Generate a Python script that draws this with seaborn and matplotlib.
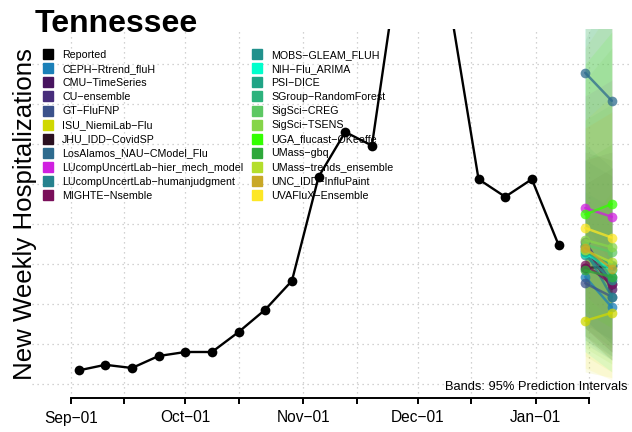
import matplotlib
matplotlib.use('Agg')
import matplotlib.pyplot as plt
import matplotlib.dates as mdates
from matplotlib.lines import Line2D
import seaborn as sns
import pandas as pd
import numpy as np

# reported weekly hospitalizations (week ending Saturday)
report_dates = pd.date_range('2022-09-03', '2023-01-07', freq='7D')
report_vals = [17, 24, 20, 35, 40, 40, 65, 93, 129, 259, 315, 298,
               526, 610, 459, 256, 234, 256, 174]

fc_dates = pd.to_datetime(['2023-01-14', '2023-01-21'])

models = ['CEPH-Rtrend_fluH', 'CMU-TimeSeries', 'CU-ensemble', 'GT-FluFNP',
          'ISU_NiemiLab-Flu', 'JHU_IDD-CovidSP', 'LosAlamos_NAU-CModel_Flu',
          'LUcompUncertLab-hier_mech_model', 'LUcompUncertLab-humanjudgment',
          'MIGHTE-Nsemble', 'MOBS-GLEAM_FLUH', 'NIH-Flu_ARIMA', 'PSI-DICE',
          'SGroup-RandomForest', 'SigSci-CREG', 'SigSci-TSENS',
          'UGA_flucast-OKeeffe', 'UMass-gbq', 'UMass-trends_ensemble',
          'UNC_IDD-InfluPaint', 'UVAFluX-Ensemble']
colors = ['#1B80B8', '#48145F', '#472D7B', '#3B528B', '#D0D800', '#2B1020',
          '#2E6B8E', '#D020E0', '#26828E', '#7A0F5A', '#21918C', '#00FFCC',
          '#20A486', '#2DB27D', '#5DC863', '#86D549', '#33FF00', '#2EA83A',
          '#B4DE2C', '#C9A826', '#FDE725']

# medians at horizon 1 and 2
med1 = [134, 172, 178, 126, 79, 145, 389, 220, 167, 149, 161, 164, 165, 171, 174, 180, 212, 142, 167, 170, 195]
med2 = [96, 119, 125, 109, 89, 147, 354, 209, 109, 125, 130, 142, 149, 134, 165, 171, 225, 134, 152, 144, 183]
# 95% prediction interval bounds
lo1 = [50, 70, 80, 55, 15, 75, 200, 110, 60, 70, 80, 40, 60, 55, 60, 45, 90, 70, 35, 60, 20]
lo2 = [30, 40, 50, 35, 8, 55, 150, 80, 30, 40, 50, 15, 35, 30, 40, 25, 70, 45, 15, 30, 5]
hi1 = [240, 290, 280, 220, 200, 250, 560, 360, 300, 280, 330, 620, 480, 430, 380, 420, 400, 280, 330, 320, 460]
hi2 = [220, 280, 260, 210, 240, 270, 540, 380, 270, 290, 350, 750, 560, 500, 420, 470, 440, 300, 360, 340, 520]

sns.set_style('white')
plt.rcParams['font.family'] = ['Liberation Sans', 'DejaVu Sans']
plt.rcParams['text.color'] = 'black'
plt.rcParams['xtick.color'] = 'black'
plt.rcParams['xtick.labelcolor'] = 'black'
minus = '\u2212'

fig = plt.figure(figsize=(6.32, 4.32), dpi=100)
ax = fig.add_axes([32 / 632, 1 - 398 / 432, 600 / 632, 369 / 432])

# bands
for i, m in enumerate(models):
    ax.fill_between(fc_dates, [lo1[i], lo2[i]], [hi1[i], hi2[i]],
                    color=colors[i], alpha=0.1, lw=0, zorder=1)

fc_df = pd.DataFrame({
    'model': np.repeat(models, 2),
    'date': np.tile(fc_dates, len(models)),
    'value': np.ravel(np.column_stack([med1, med2])),
})
pal = dict(zip(models, colors))
sns.lineplot(data=fc_df, x='date', y='value', hue='model', palette=pal,
             marker='o', markersize=7, markeredgewidth=0, lw=1.8,
             alpha=0.75, legend=False, ax=ax, zorder=3)

rep_df = pd.DataFrame({'date': report_dates, 'value': report_vals})
sns.lineplot(data=rep_df, x='date', y='value', color='black', marker='o',
             markersize=7, markeredgewidth=0, lw=1.7, ax=ax, zorder=4)

# axes
ax.set_xlim(pd.Timestamp('2022-08-21 18:00'), pd.Timestamp('2023-01-26 07:00'))
ax.set_ylim(-17.5, 443.75)
ticks = pd.to_datetime(['2022-09-01', '2022-09-15', '2022-10-01', '2022-10-15',
                        '2022-11-01', '2022-11-15', '2022-12-01', '2022-12-15',
                        '2023-01-01', '2023-01-15'])
ax.set_xticks(ticks)
ax.set_xticklabels([t.strftime('%b') + minus + '01' if t.day == 1 else '' for t in ticks],
                   fontsize=11.2)
ax.set_yticks(np.arange(0, 401, 50))
ax.set_yticklabels([])
ax.tick_params(axis='y', length=0)
ax.tick_params(axis='x', bottom=True, direction='out', length=4, width=1.4,
               pad=5, color='black', labelcolor='black')
ax.grid(True, linestyle=(0, (1, 3)), color='#c4c4c4', lw=0.9)
for s in ['top', 'right', 'left']:
    ax.spines[s].set_visible(False)
ax.spines['bottom'].set_bounds(mdates.date2num(ticks[0]), mdates.date2num(ticks[-1]))
ax.spines['bottom'].set_linewidth(1.4)
ax.spines['bottom'].set_color('black')
ax.set_xlabel('')
ax.set_ylabel('')

ax.text(0.993, 0.03, 'Bands: 95% Prediction Intervals', transform=ax.transAxes,
        ha='right', va='center', fontsize=9.3, color='black')

# legend
handles = [Line2D([], [], marker='s', ls='', color='black', markersize=6.5)]
handles += [Line2D([], [], marker='s', ls='', color=c, markersize=6.5) for c in colors]
labels = [l.replace('-', minus) for l in ['Reported'] + models]
leg = fig.legend(handles, labels, ncol=2, loc='upper left',
                 bbox_to_anchor=(44 / 632, 1 - 50 / 432), frameon=False,
                 fontsize=7.7, handlelength=0.8, handletextpad=0.9,
                 labelspacing=0.38, columnspacing=0.9, borderpad=0,
                 borderaxespad=0)
for t in leg.get_texts():
    t.set_color('black')

fig.text(35 / 632, 1 - 32 / 432, 'Tennessee', fontsize=23, fontweight='bold',
         ha='left', va='baseline', color='black')
fig.text(25 / 632, 1 - 214 / 432, 'New Weekly Hospitalizations', fontsize=18.6,
         rotation=90, ha='center', va='center', color='black')

fig.savefig('out.png', dpi=100)
